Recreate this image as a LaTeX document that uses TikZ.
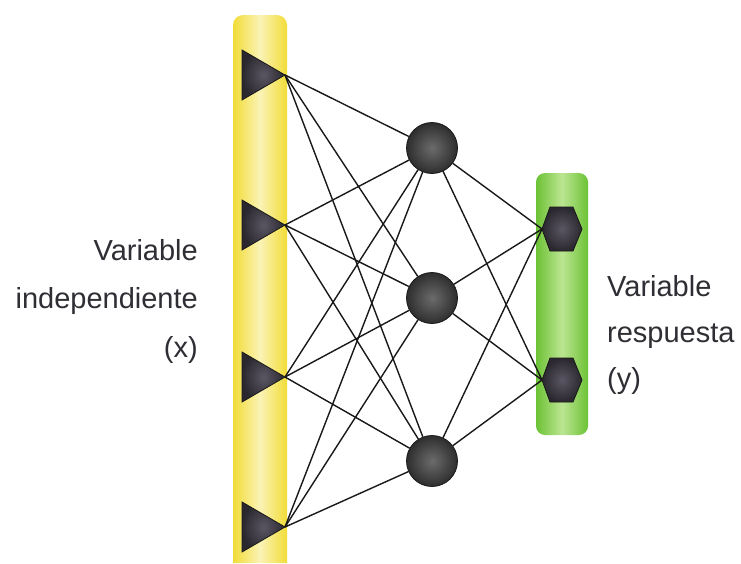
\documentclass[tikz,border=0pt]{standalone}
\usepackage{fontspec}
\setmainfont{Liberation Sans}
\definecolor{ybar}{HTML}{F2DC38}
\definecolor{ybarmid}{HTML}{FAF3B6}
\definecolor{gbar}{HTML}{6CC235}
\definecolor{gbarmid}{HTML}{BCE592}
\definecolor{txt}{HTML}{2E2E34}
\definecolor{unitin}{HTML}{5A5664}
\definecolor{unitout}{HTML}{2A282E}
% bars: saturated at the edges, pale along the middle
\pgfdeclarehorizontalshading{yellowbar}{100bp}{color(0bp)=(ybar); color(25bp)=(ybar); color(50bp)=(ybarmid); color(75bp)=(ybar); color(100bp)=(ybar)}
\pgfdeclarehorizontalshading{greenbar}{100bp}{color(0bp)=(gbar); color(25bp)=(gbar); color(50bp)=(gbarmid); color(75bp)=(gbar); color(100bp)=(gbar)}
\begin{document}
\begin{tikzpicture}[x=1pt,y=-1pt,
  link/.style={line width=1.4pt, black!90},
  hidden/.style={circle, minimum size=51pt, inner sep=0pt, draw=black!90, line width=0.8pt, inner color=black!58, outer color=black!82},
  unit/.style={draw=black!90, line width=0.8pt, inner color=unitin, outer color=unitout},
  lbl/.style={inner sep=0pt, text=txt, font=\fontsize{29}{35}\selectfont}]
\useasboundingbox (0,0) rectangle (741,563);
\fill[white] (0,0) rectangle (741,563);

% input layer bar and output layer bar
\shade[shading=yellowbar] (233,563) [rounded corners=10pt]-- (233,15) -- (287,15) [sharp corners]-- (287,563) -- cycle;
\shade[shading=greenbar, rounded corners=9pt] (536,173) rectangle (588,435);

% input tips and output entry points
\foreach \n/\y in {1/75,2/225,3/377,4/527}
  \coordinate (i\n) at (285,\y);
\foreach \n/\y in {1/229,2/380}
  \coordinate (o\n) at (542,\y);

% hidden units
\node[hidden] (h1) at (432,148) {};
\node[hidden] (h2) at (432,298) {};
\node[hidden] (h3) at (432,461) {};

% connections
\foreach \i in {1,...,4}
  \foreach \h in {1,2,3}
    \draw[link] (i\i) -- (h\h);
\foreach \h in {1,2,3}
  \foreach \o in {1,2}
    \draw[link] (h\h) -- (o\o);

% input units (triangles)
\foreach \y in {75,225,377,527}
  \shade[unit] (242,\y-25) -- (285,\y) -- (242,\y+25) -- cycle;

% output units (hexagons)
\foreach \y in {229,380}
  \shade[unit] (542,\y) -- (550,\y-22) -- (573,\y-22) -- (582,\y) -- (573,\y+22) -- (550,\y+22) -- cycle;

% labels
\node[lbl, anchor=base east] (xl1) at (198,260) {Variable};
\node[lbl, anchor=base east] (xl2) at (198,308) {independiente};
\node[lbl, anchor=base east] (xl3) at (198,357) {(x)};
\node[lbl, anchor=base west] (yl1) at (607,296) {Variable};
\node[lbl, anchor=base west] (yl2) at (607,342) {respuesta};
\node[lbl, anchor=base west] (yl3) at (607,388) {(y)};
\end{tikzpicture}
\end{document}
